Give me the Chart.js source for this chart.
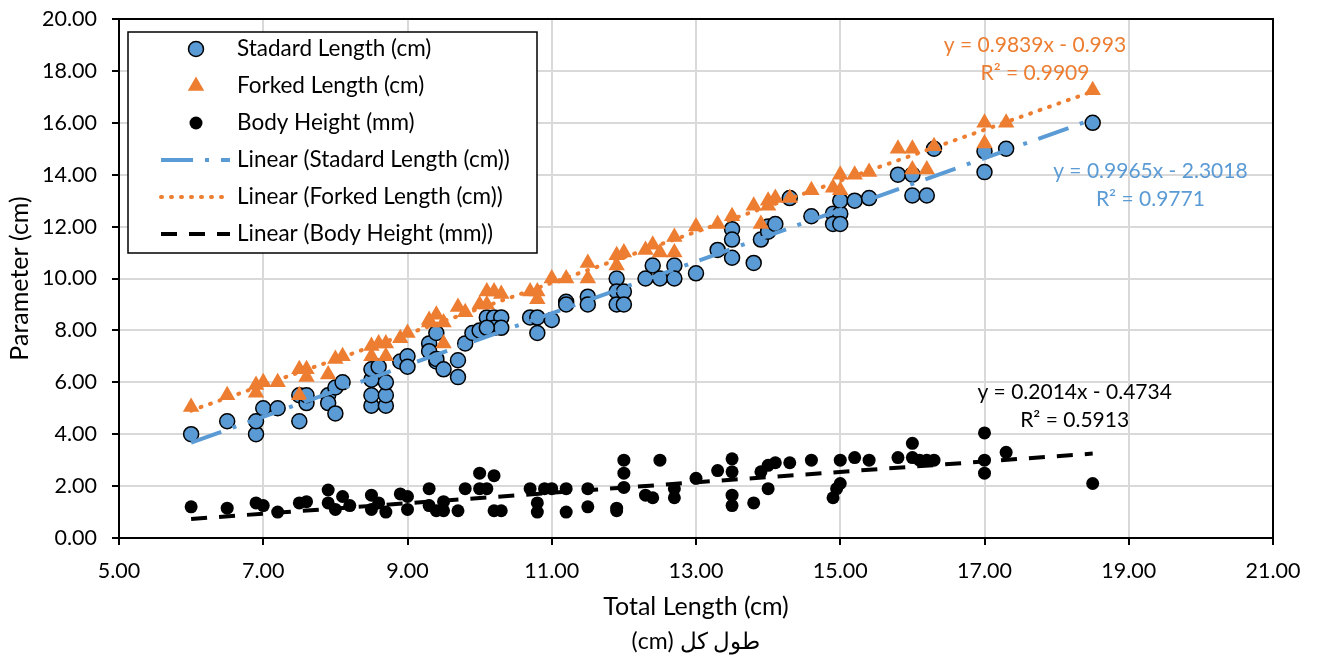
<!DOCTYPE html>
<html>
<head>
<meta charset="utf-8">
<title>Total Length vs Parameter</title>
<script src="https://cdn.jsdelivr.net/npm/chart.js@4.4.1/dist/chart.umd.min.js"></script>
<style>
  html, body { margin: 0; padding: 0; background: #fff; }
  #myChart { display: block; }
</style>
</head>
<body>
<canvas id="myChart" width="1317" height="657"></canvas>
<script>
'use strict'

// series names
const seriesNames = ['Stadard Length (cm)', 'Forked Length (cm)', 'Body Height (mm)'];

// standard length (blue circles)
const slX = [6.0, 6.5, 6.9, 6.9, 7.0, 7.2, 7.5, 7.5, 7.6, 7.6, 7.9, 7.9, 8.0, 8.0, 8.1,
  8.5, 8.5, 8.5, 8.5, 8.7, 8.7, 8.7, 8.6, 8.9, 9.0, 9.0, 9.3, 9.3, 9.4, 9.4, 9.5, 9.4,
  9.7, 9.7, 9.8, 9.9, 10.0, 10.1, 10.2, 10.3, 10.2, 10.3, 10.1, 10.7, 10.8, 10.8, 11.0,
  11.2, 11.2, 11.5, 11.5, 11.9, 11.9, 11.9, 12.0, 12.0, 12.3, 12.4, 12.5, 12.7, 12.7, 13.0,
  13.3, 13.5, 13.5, 13.5, 13.8, 13.9, 14.0, 14.0, 14.1, 14.3, 14.6, 14.9, 15.0, 14.9, 15.0,
  15.0, 15.2, 15.4, 15.8, 16.0, 16.0, 16.2, 16.3, 17.0, 17.0, 17.3, 18.5];
const slY = [4.0, 4.5, 4.0, 4.5, 5.0, 5.0, 4.5, 5.5, 5.2, 5.5, 5.5, 5.2, 4.8, 5.8, 6.0,
  5.1, 5.5, 6.1, 6.5, 5.1, 5.5, 6.0, 6.6, 6.8, 7.0, 6.6, 7.5, 7.2, 6.8, 6.9, 6.5, 7.9,
  6.85, 6.2, 7.5, 7.9, 8.0, 8.5, 8.5, 8.5, 8.1, 8.1, 8.1, 8.5, 8.5, 7.9, 8.4,
  9.1, 9.0, 9.3, 9.0, 10.0, 9.5, 9.0, 9.5, 9.0, 10.0, 10.5, 10.0, 10.5, 10.0, 10.2,
  11.1, 11.9, 11.5, 10.8, 10.6, 11.5, 12.0, 11.8, 12.1, 13.1, 12.4, 12.5, 12.5, 12.1, 12.1,
  13.0, 13.0, 13.1, 14.0, 14.0, 13.2, 13.2, 15.0, 14.9, 14.1, 15.0, 16.0];

// forked length (orange triangles)
const flX = [6.0, 6.5, 6.9, 6.9, 7.0, 7.2, 7.5, 7.5, 7.6, 7.6, 7.9, 8.0, 8.1, 8.5, 8.5,
  8.6, 8.7, 8.7, 8.9, 9.0, 9.3, 9.4, 9.3, 9.5, 9.5, 9.7, 9.8, 10.0, 10.1, 10.2, 10.3, 10.1,
  10.7, 10.8, 10.8, 11.0, 11.2, 11.5, 11.5, 11.9, 12.0, 11.9, 12.3, 12.4, 12.5, 12.7, 12.7,
  13.0, 13.3, 13.5, 13.8, 13.9, 14.0, 14.0, 14.1, 14.3, 14.6, 14.9, 15.0, 15.0, 15.2, 15.4,
  15.8, 16.0, 16.3, 16.0, 16.2, 17.0, 17.0, 17.3, 18.5];
const flY = [5.05, 5.5, 5.9, 5.6, 6.0, 6.0, 6.5, 5.5, 6.5, 6.2, 6.3, 6.9, 7.0, 7.4, 7.0,
  7.5, 7.5, 7.0, 7.7, 7.9, 8.4, 8.6, 8.3, 8.3, 7.5, 8.9, 8.7, 9.0, 9.5, 9.5, 9.4, 9.0,
  9.5, 9.5, 9.2, 10.0, 10.0, 10.6, 10.0, 10.9, 11.0, 10.5, 11.1, 11.3, 11.0, 11.6, 11.0,
  12.0, 12.1, 12.4, 12.8, 12.1, 13.0, 12.8, 13.1, 13.1, 13.4, 13.5, 13.4, 14.0, 14.0, 14.1,
  15.0, 15.0, 15.1, 14.2, 14.2, 16.0, 15.2, 16.0, 17.25];

// body height (black dots)
const bhX = [6.0, 6.5, 6.9, 7.0, 7.2, 7.5, 7.6, 7.9, 7.9, 8.0, 8.1, 8.2, 8.5, 8.5, 8.6,
  8.7, 8.9, 9.0, 9.0, 9.3, 9.3, 9.4, 9.5, 9.5, 9.7, 9.8, 10.0, 10.2, 10.0, 10.1, 10.2, 10.3,
  10.7, 10.8, 10.8, 10.9, 11.0, 11.2, 11.2, 11.5, 11.5, 11.9, 11.9, 12.0, 12.0, 12.0,
  12.3, 12.4, 12.5, 12.7, 12.7, 13.0, 13.3, 13.5, 13.5, 13.5, 13.5, 13.8, 13.9, 14.0, 14.0,
  14.1, 14.3, 14.6, 14.9, 14.95, 15.0, 15.0, 15.2, 15.4, 15.8, 16.0, 16.0, 16.1, 16.2, 16.3,
  17.0, 17.0, 17.0, 17.3, 18.5];
const bhY = [1.2, 1.15, 1.35, 1.25, 1.0, 1.35, 1.4, 1.85, 1.35, 1.1, 1.6, 1.25, 1.65, 1.1, 1.35,
  1.0, 1.7, 1.6, 1.1, 1.9, 1.25, 1.05, 1.05, 1.4, 1.05, 1.9, 2.5, 2.4, 1.9, 1.9, 1.05, 1.05,
  1.9, 1.35, 1.0, 1.9, 1.9, 1.9, 1.0, 1.9, 1.2, 1.05, 1.15, 3.0, 2.5, 1.95,
  1.65, 1.55, 3.0, 1.9, 1.55, 2.3, 2.6, 3.05, 2.55, 1.65, 1.25, 1.35, 2.55, 1.9, 2.8,
  2.9, 2.9, 3.0, 1.55, 1.9, 2.1, 3.0, 3.1, 3.0, 3.1, 3.65, 3.1, 3.0, 3.0, 3.0,
  4.05, 3.0, 2.5, 3.3, 2.1];

// linear trendlines, coefficients as printed on the chart
const trendNames = ['Linear (Stadard Length (cm))', 'Linear (Forked Length (cm))', 'Linear (Body Height (mm))'];
const trendSlopes = [0.9965, 0.9839, 0.2014];
const trendIntercepts = [-2.3018, -0.993, -0.4734];
const trendR2 = [0.9771, 0.9909, 0.5913];

const BLUE = '#5B9BD5';
const ORANGE = '#ED7D31';
const FONT = 'Lato, "Open Sans", sans-serif';

function toPoints(xs, ys) {
  let pts = [];
  for (let i = 0; i < xs.length; i++) {
    pts.push({ x: xs[i], y: ys[i] });
  }
  return pts;
}

// trendline from smallest to largest x of its series
function trendPoints(xs, i) {
  let lo = Math.min(...xs);
  let hi = Math.max(...xs);
  return [
    { x: lo, y: trendSlopes[i] * lo + trendIntercepts[i] },
    { x: hi, y: trendSlopes[i] * hi + trendIntercepts[i] }
  ];
}

function equationText(i) {
  let sign = trendIntercepts[i] < 0 ? '-' : '+';
  return `y = ${trendSlopes[i]}x ${sign} ${Math.abs(trendIntercepts[i])}`;
}

const markerStyles = [
  { pointStyle: 'circle', radius: 7.5, fill: BLUE, stroke: '#000', borderWidth: 1.5 },
  { pointStyle: 'triangle', radius: 9.5, fill: ORANGE, stroke: ORANGE, borderWidth: 0 },
  { pointStyle: 'circle', radius: 6.5, fill: '#000', stroke: '#000', borderWidth: 0 }
];
const trendStyles = [
  { color: BLUE, dash: [32, 12, 4, 12], cap: 'butt' },
  { color: ORANGE, dash: [1, 9], cap: 'round' },
  { color: '#000', dash: [16, 12], cap: 'butt' }
];

// where the equation labels sit (data units, centre of the text)
const labelX = [19.3, 17.7, 18.25];
const labelY = [14.15, 18.98, 5.6];

function scatterSet(i, xs, ys) {
  let m = markerStyles[i];
  return {
    label: seriesNames[i],
    data: toPoints(xs, ys),
    showLine: false,
    pointStyle: m.pointStyle,
    pointRadius: m.radius,
    pointHoverRadius: m.radius,
    pointBackgroundColor: m.fill,
    pointBorderColor: m.stroke,
    pointBorderWidth: m.borderWidth,
    order: 3 - i
  };
}

function trendSet(i, xs) {
  let t = trendStyles[i];
  return {
    label: trendNames[i],
    data: trendPoints(xs, i),
    showLine: true,
    pointRadius: 0,
    borderColor: t.color,
    borderWidth: 4,
    borderDash: t.dash,
    borderCapStyle: t.cap,
    order: 0
  };
}

// box around the plot + Persian axis caption
const frame = {
  id: 'frame',
  beforeDatasetsDraw(chart) {
    const { ctx, chartArea } = chart;
    ctx.save();
    ctx.strokeStyle = '#000';
    ctx.lineWidth = 2;
    ctx.strokeRect(chartArea.left, chartArea.top, chartArea.right - chartArea.left, chartArea.bottom - chartArea.top);
    ctx.restore();
  },
  afterDraw(chart) {
    const { ctx, chartArea } = chart;
    ctx.save();
    ctx.fillStyle = '#000';
    ctx.direction = 'rtl';
    ctx.font = '23px Lato, "Liberation Serif", serif';
    ctx.textAlign = 'center';
    ctx.textBaseline = 'middle';
    ctx.fillText('طول کل (cm)', (chartArea.left + chartArea.right) / 2, 642);
    ctx.restore();
  }
};

// trendline equations
const equations = {
  id: 'equations',
  afterDatasetsDraw(chart) {
    const { ctx, scales } = chart;
    const colors = [BLUE, ORANGE, '#000'];
    ctx.save();
    ctx.font = '21px ' + FONT;
    ctx.textAlign = 'center';
    ctx.textBaseline = 'middle';
    for (let i = 0; i < 3; i++) {
      let px = scales.x.getPixelForValue(labelX[i]);
      let py = scales.y.getPixelForValue(labelY[i]);
      ctx.fillStyle = colors[i];
      ctx.fillText(equationText(i), px, py);
      ctx.fillText(`R² = ${trendR2[i]}`, px, py + 28);
    }
    ctx.restore();
  }
};

// legend box inside the plot, top-left
const legendBox = {
  id: 'legendBox',
  afterDatasetsDraw(chart) {
    const { ctx, chartArea } = chart;
    let left = chartArea.left + 9;
    let top = chartArea.top + 13;
    let w = 409;
    let h = 221;
    ctx.save();
    ctx.fillStyle = '#fff';
    ctx.fillRect(left, top, w, h);
    ctx.strokeStyle = '#000';
    ctx.lineWidth = 1.5;
    ctx.strokeRect(left, top, w, h);

    let names = seriesNames.concat(trendNames);
    ctx.font = '22.5px ' + FONT;
    ctx.textAlign = 'left';
    ctx.textBaseline = 'middle';
    for (let i = 0; i < 6; i++) {
      let cy = top + 17 + i * 37;
      if (i < 3) {
        let m = markerStyles[i];
        ctx.fillStyle = m.fill;
        ctx.strokeStyle = m.stroke;
        ctx.lineWidth = m.borderWidth;
        Chart.helpers.drawPoint(ctx, { pointStyle: m.pointStyle, radius: m.radius, borderWidth: m.borderWidth, rotation: 0 }, left + 68, cy);
      } else {
        let t = trendStyles[i - 3];
        ctx.beginPath();
        ctx.strokeStyle = t.color;
        ctx.lineWidth = 4;
        ctx.lineCap = t.cap;
        ctx.setLineDash(t.dash);
        ctx.moveTo(left + 33, cy);
        ctx.lineTo(left + 102, cy);
        ctx.stroke();
        ctx.setLineDash([]);
      }
      ctx.fillStyle = '#000';
      ctx.fillText(names[i], left + 109, cy);
    }
    ctx.restore();
  }
};

let config = {
  type: 'scatter',
  data: {
    datasets: [
      trendSet(0, slX),
      trendSet(1, flX),
      trendSet(2, bhX),
      scatterSet(2, bhX, bhY),
      scatterSet(1, flX, flY),
      scatterSet(0, slX, slY)
    ]
  },
  options: {
    responsive: false,
    animation: false,
    devicePixelRatio: 1,
    layout: { padding: { left: 0, right: 44, top: 19, bottom: 0 } },
    plugins: {
      legend: { display: false },
      tooltip: { enabled: false }
    },
    scales: {
      x: {
        type: 'linear',
        min: 5,
        max: 21,
        afterFit: (scale) => {
          scale.height = 119;
          scale.paddingLeft = 0;
          scale.paddingRight = 0;
        },
        ticks: {
          stepSize: 2,
          padding: 13,
          color: '#000',
          font: { family: FONT, size: 21.5 },
          callback: (v) => v.toFixed(2)
        },
        grid: { color: '#d9d9d9', lineWidth: 2, tickColor: '#000', tickWidth: 2, tickLength: 7 },
        border: { color: '#000', width: 2 },
        title: {
          display: true,
          text: 'Total Length (cm)',
          color: '#000',
          font: { family: FONT, size: 25 },
          padding: { top: 0, bottom: 35 }
        }
      },
      y: {
        type: 'linear',
        min: 0,
        max: 20,
        afterFit: (scale) => {
          scale.width = 119;
          scale.paddingTop = 0;
          scale.paddingBottom = 0;
        },
        ticks: {
          stepSize: 2,
          padding: 15,
          color: '#000',
          font: { family: FONT, size: 21.5 },
          callback: (v) => v.toFixed(2)
        },
        grid: { color: '#d9d9d9', lineWidth: 2, tickColor: '#000', tickWidth: 2, tickLength: 7 },
        border: { color: '#000', width: 2 },
        title: {
          display: true,
          text: 'Parameter (cm)',
          color: '#000',
          font: { family: FONT, size: 25 },
          padding: { top: 5, bottom: 0 }
        }
      }
    }
  },
  plugins: [frame, equations, legendBox]
};

const ctx = document.getElementById('myChart').getContext('2d');
const myChart = new Chart(ctx, config);
</script>
</body>
</html>
